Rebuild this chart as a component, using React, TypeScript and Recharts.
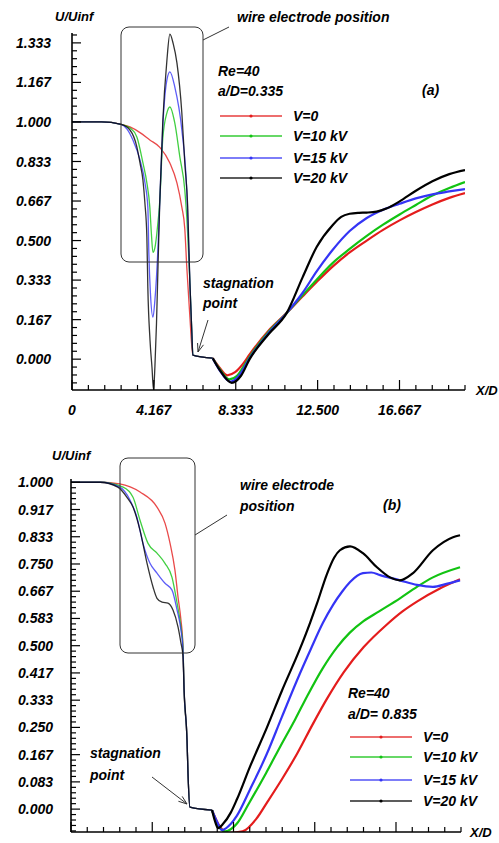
import React from 'react';
import { LineChart, Line, XAxis, YAxis } from 'recharts';

const FONT = '"Liberation Sans", Arial, Helvetica, sans-serif';

const SERIES_NAMES = ['V=0', 'V=10 kV', 'V=15 kV', 'V=20 kV'];
const SERIES_COLORS = ['#e41c1c', '#12c312', '#3434f5', '#000000'];

// ---------- chart (a): a/D = 0.335 ----------
const A_V0: [number, number][] = [
  [0, 1], [1.5, 1], [2.0, 0.998], [2.5, 0.99], [2.95, 0.979], [3.46, 0.955], [3.96, 0.924],
  [4.47, 0.893], [4.98, 0.827], [5.34, 0.743], [5.59, 0.641], [5.74, 0.55], [5.84, 0.39],
  [6.0, 0.177], [6.15, 0.017], [7.16, 0.004], [7.5, -0.035], [7.9, -0.068], [8.3, -0.055],
  [8.7, -0.02], [9.04, 0.02], [10.0, 0.12], [10.92, 0.194], [11.74, 0.265], [12.45, 0.325],
  [13.26, 0.39], [14.13, 0.45], [15.0, 0.5], [15.83, 0.545], [16.67, 0.585], [17.5, 0.62],
  [18.34, 0.652], [19.2, 0.68], [20, 0.7],
];
const A_V10: [number, number][] = [
  [0, 1], [1.5, 1], [2.5, 0.99], [2.95, 0.975], [3.3, 0.937], [3.61, 0.827], [3.81, 0.743],
  [3.96, 0.641], [4.04, 0.53], [4.12, 0.45], [4.22, 0.47], [4.32, 0.532], [4.47, 0.671],
  [4.62, 0.93], [4.83, 1.038], [4.98, 1.063], [5.23, 0.996], [5.49, 0.852], [5.74, 0.713],
  [5.84, 0.6], [6.0, 0.32], [6.1, 0.11], [6.15, 0.017], [7.16, 0.004], [7.5, -0.04],
  [8.0, -0.085], [8.4, -0.07], [8.7, -0.035], [9.04, 0.01], [10.0, 0.115], [10.92, 0.194],
  [11.74, 0.27], [12.45, 0.335], [13.26, 0.405], [14.13, 0.465], [15.0, 0.52], [15.83, 0.567],
  [16.67, 0.61], [17.5, 0.65], [18.34, 0.69], [19.2, 0.722], [20, 0.747],
];
const A_V15: [number, number][] = [
  [0, 1], [1.5, 1], [2.5, 0.99], [2.8, 0.97], [3.1, 0.924], [3.46, 0.84], [3.71, 0.745],
  [3.86, 0.64], [3.91, 0.45], [3.99, 0.28], [4.12, 0.177], [4.22, 0.249], [4.37, 0.46],
  [4.47, 0.671], [4.62, 0.98], [4.83, 1.177], [4.98, 1.211], [5.23, 1.148], [5.59, 0.966],
  [5.84, 0.713], [6.0, 0.32], [6.1, 0.11], [6.15, 0.017], [7.16, 0.004], [7.5, -0.045],
  [8.05, -0.095], [8.5, -0.07], [9.04, 0.005], [10.0, 0.11], [10.92, 0.194], [11.74, 0.28],
  [12.45, 0.37], [13.26, 0.46], [14.13, 0.54], [15.0, 0.595], [15.83, 0.63], [16.67, 0.655],
  [17.5, 0.678], [18.34, 0.695], [19.2, 0.707], [20, 0.717],
];
const A_V20: [number, number][] = [
  [0, 1], [1.5, 1], [2.5, 0.99], [2.95, 0.966], [3.3, 0.895], [3.46, 0.827], [3.61, 0.755],
  [3.71, 0.658], [3.81, 0.515], [3.86, 0.3], [3.97, 0.08], [4.07, -0.034], [4.15, -0.13],
  [4.22, -0.03], [4.3, 0.15], [4.38, 0.4], [4.47, 0.671], [4.62, 1.0], [4.83, 1.26],
  [4.98, 1.37], [5.15, 1.33], [5.34, 1.249], [5.59, 1.038], [5.74, 0.827], [5.89, 0.641],
  [6.0, 0.32], [6.1, 0.11], [6.15, 0.017], [7.16, 0.004], [7.52, -0.046], [8.13, -0.1],
  [8.6, -0.07], [9.04, 0.0], [10.0, 0.105], [10.92, 0.194], [11.74, 0.346], [12.45, 0.473],
  [13.26, 0.565], [13.7, 0.6], [14.13, 0.613], [14.6, 0.617], [15.0, 0.618], [15.5, 0.622],
  [16.0, 0.635], [16.67, 0.665], [17.5, 0.71], [18.34, 0.75], [19.2, 0.78], [20, 0.797],
];

// ---------- chart (b): a/D = 0.835 ----------
const B_V0: [number, number][] = [
  [0, 1], [1.5, 1], [2.5, 0.995], [3.54, 0.97], [4.41, 0.924], [4.82, 0.875], [5.08, 0.813],
  [5.33, 0.731], [5.49, 0.648], [5.64, 0.578], [5.74, 0.5], [5.8, 0.364], [5.95, 0.211],
  [6.0, 0.11], [6.1, 0.006], [7.23, -0.003], [7.6, -0.05], [8.0, -0.073], [8.8, -0.068],
  [9.5, -0.03], [10.05, 0.02], [10.8, 0.09], [11.6, 0.17], [12.4, 0.26], [13.1, 0.335],
  [14.0, 0.42], [15.0, 0.495], [16.2, 0.565], [17.0, 0.605], [17.74, 0.635], [18.92, 0.675],
  [19.95, 0.703],
];
const B_V10: [number, number][] = [
  [0, 1], [1.5, 1], [2.67, 0.985], [3.18, 0.954], [3.54, 0.884], [3.95, 0.813], [4.41, 0.783],
  [4.82, 0.752], [5.18, 0.709], [5.44, 0.63], [5.64, 0.557], [5.74, 0.5], [5.8, 0.364],
  [5.95, 0.211], [6.0, 0.11], [6.1, 0.006], [7.23, -0.003], [7.55, -0.05], [7.9, -0.068],
  [8.5, -0.045], [9.1, 0.015], [10.0, 0.11], [10.72, 0.19], [11.5, 0.275], [12.15, 0.35],
  [12.9, 0.43], [13.64, 0.495], [14.3, 0.54], [15.0, 0.575], [15.8, 0.605], [16.87, 0.645],
  [17.74, 0.68], [18.56, 0.709], [19.95, 0.74],
];
const B_V15: [number, number][] = [
  [0, 1], [1.5, 1], [2.5, 0.985], [3.03, 0.945], [3.38, 0.893], [3.69, 0.813], [4.05, 0.752],
  [4.41, 0.722], [4.82, 0.691], [5.18, 0.67], [5.44, 0.609], [5.64, 0.547], [5.74, 0.49],
  [5.8, 0.364], [5.95, 0.211], [6.0, 0.11], [6.1, 0.006], [7.23, -0.003], [7.5, -0.04],
  [7.74, -0.064], [8.2, -0.045], [8.51, -0.02], [9.18, 0.06], [10.05, 0.17], [10.8, 0.28],
  [11.74, 0.415], [12.3, 0.49], [12.92, 0.57], [13.44, 0.625], [13.9, 0.665], [14.31, 0.695],
  [14.97, 0.722], [15.4, 0.724], [15.85, 0.716], [16.87, 0.7], [17.74, 0.686], [18.56, 0.68],
  [19.3, 0.69], [19.95, 0.7],
];
const B_V20: [number, number][] = [
  [0, 1], [1.5, 1], [2.4, 0.985], [2.87, 0.954], [3.18, 0.924], [3.54, 0.853], [3.9, 0.752],
  [4.21, 0.679], [4.41, 0.645], [4.67, 0.633], [4.97, 0.63], [5.23, 0.609], [5.49, 0.557],
  [5.64, 0.508], [5.74, 0.47], [5.8, 0.364], [5.95, 0.211], [6.0, 0.11], [6.1, 0.006],
  [7.23, -0.003], [7.4, -0.04], [7.54, -0.058], [7.8, -0.045], [8.2, -0.01], [8.51, 0.03],
  [9.18, 0.13], [10.05, 0.25], [10.8, 0.36], [11.74, 0.49], [12.26, 0.57], [12.62, 0.63],
  [13.13, 0.72], [13.5, 0.77], [13.79, 0.792], [14.31, 0.804], [14.97, 0.783], [15.69, 0.74],
  [16.36, 0.709], [16.87, 0.7], [17.54, 0.722], [18.56, 0.792], [19.59, 0.832], [19.95, 0.838],
];

// end of the thin flat segment after the stagnation point (thin markers before, thick line after)
const A_SPLIT_X = 7.16;
const B_SPLIT_X = 7.23;

// ---------- axes ----------
const X_MAJOR = [0, 25 / 6, 50 / 6, 12.5, 100 / 6];
const X_LABELS_A = ['0', '4.167', '8.333', '12.500', '16.667'];
const X_LABELS_B = ['', '', '', '', ''];
const A_Y_MAJOR = [0, 1 / 6, 2 / 6, 3 / 6, 4 / 6, 5 / 6, 1, 7 / 6, 8 / 6];
const A_Y_LABELS = ['0.000', '0.167', '0.333', '0.500', '0.667', '0.833', '1.000', '1.167', '1.333'];
const B_Y_MAJOR = [0, 1 / 12, 2 / 12, 3 / 12, 4 / 12, 5 / 12, 6 / 12, 7 / 12, 8 / 12, 9 / 12, 10 / 12, 11 / 12, 1];
const B_Y_LABELS = ['0.000', '0.083', '0.167', '0.250', '0.333', '0.417', '0.500', '0.583', '0.667', '0.750', '0.833', '0.917', '1.000'];

const A_Y_DOMAIN: [number, number] = [-0.13, 1.375];
const B_Y_DOMAIN: [number, number] = [-0.07, 1.01];
const X_DOMAIN: [number, number] = [0, 20];

function tickList(step: number, lo: number, hi: number) {
  const out: number[] = [];
  const k0 = Math.ceil(lo / step - 1e-6);
  const k1 = Math.floor(hi / step + 1e-6);
  for (let k = k0; k <= k1; k++) out.push(+(k * step).toFixed(6));
  return out;
}

const toPts = (arr: [number, number][]) => arr.map(([x, y]) => ({ x, y }));

const textStyle: React.CSSProperties = {
  fontFamily: FONT,
  fontStyle: 'italic',
  fontWeight: 'bold',
  fontSize: 14,
  fill: '#000',
};

const YTick = (props: any) => {
  const { x, y, payload, majors, labels, dx } = props;
  const v = payload.value;
  const idx = majors.findIndex((m: number) => Math.abs(m - v) < 1e-4);
  const major = idx >= 0;
  return (
    <g>
      <line x1={x} y1={y} x2={x + (major ? 9 : 5)} y2={y} stroke="#000" strokeWidth={1.2} />
      {major && labels[idx] ? (
        <text x={x - dx} y={y} dy="0.36em" textAnchor="end" style={textStyle}>
          {labels[idx]}
        </text>
      ) : null}
    </g>
  );
};

const XTick = (props: any) => {
  const { x, y, payload, majors, labels } = props;
  const v = payload.value;
  const idx = majors.findIndex((m: number) => Math.abs(m - v) < 1e-4);
  const major = idx >= 0;
  return (
    <g>
      <line x1={x} y1={y} x2={x} y2={y - (major ? 10 : 5)} stroke="#000" strokeWidth={1.2} />
      {major && labels[idx] ? (
        <text x={x} y={y + 25} textAnchor="middle" style={textStyle}>
          {labels[idx]}
        </text>
      ) : null}
    </g>
  );
};

function Panel(props: {
  series: [number, number][][];
  splitX: number;
  yDomain: [number, number];
  yMajor: number[];
  yLabels: string[];
  yMinorStep: number;
  xLabels: string[];
  width: number;
  height: number;
  margin: { top: number; right: number; bottom: number; left: number };
  yLabelDx: number;
}) {
  const { series, splitX, yDomain, yMajor, yLabels, yMinorStep, xLabels, width, height, margin, yLabelDx } = props;
  const yTicks = tickList(yMinorStep, yDomain[0], yDomain[1]);
  const xTicks = tickList(5 / 6, X_DOMAIN[0], X_DOMAIN[1]);
  return (
    <LineChart width={width} height={height} margin={margin}>
      <XAxis
        type="number"
        dataKey="x"
        domain={X_DOMAIN}
        allowDataOverflow
        ticks={xTicks}
        interval={0}
        height={1}
        tickSize={0}
        tickMargin={0}
        axisLine={{ stroke: '#000', strokeWidth: 1.6 }}
        tickLine={false}
        tick={(p: any) => <XTick {...p} majors={X_MAJOR} labels={xLabels} />}
      />
      <YAxis
        type="number"
        domain={yDomain}
        allowDataOverflow
        ticks={yTicks}
        interval={0}
        width={1}
        tickSize={0}
        tickMargin={0}
        axisLine={{ stroke: '#000', strokeWidth: 1.6 }}
        tickLine={false}
        tick={(p: any) => <YTick {...p} majors={yMajor} labels={yLabels} dx={yLabelDx} />}
      />
      {series.map((s, i) => (
        <Line
          key={'u' + i}
          data={toPts(s.filter(([x]) => x <= splitX))}
          dataKey="y"
          type="monotone"
          stroke={SERIES_COLORS[i]}
          strokeOpacity={0.8}
          strokeWidth={1.3}
          dot={false}
          isAnimationActive={false}
        />
      ))}
      {series.map((s, i) => (
        <Line
          key={'d' + i}
          data={toPts(s.filter(([x]) => x >= splitX))}
          dataKey="y"
          type="monotone"
          stroke={SERIES_COLORS[i]}
          strokeWidth={2.2}
          dot={false}
          isAnimationActive={false}
        />
      ))}
    </LineChart>
  );
}

function arrowHead(x1: number, y1: number, x2: number, y2: number, len = 9, ang = 0.35) {
  const a = Math.atan2(y2 - y1, x2 - x1);
  const p1 = [x2 - len * Math.cos(a - ang), y2 - len * Math.sin(a - ang)];
  const p2 = [x2 - len * Math.cos(a + ang), y2 - len * Math.sin(a + ang)];
  return `M${p1[0]},${p1[1]} L${x2},${y2} L${p2[0]},${p2[1]}`;
}

function Legend({ x, y0, gaps }: { x: number; y0: number; gaps: number[] }) {
  let y = y0;
  return (
    <g>
      {SERIES_NAMES.map((n, i) => {
        if (i > 0) y += gaps[i - 1];
        return (
          <g key={n}>
            <line x1={x} y1={y} x2={x + 62} y2={y} stroke={SERIES_COLORS[i]} strokeWidth={1.5} opacity={0.85} />
            <circle cx={x + 31} cy={y} r={1.6} fill={SERIES_COLORS[i]} />
            <text x={x + 73} y={y} dy="0.36em" style={textStyle}>{n}</text>
          </g>
        );
      })}
    </g>
  );
}

export default function App() {
  return (
    <div style={{ position: 'absolute', left: 0, top: 0, width: 499, height: 843, background: '#fff' }}>
      <div style={{ position: 'absolute', left: 0, top: 0 }}>
        <Panel
          series={[A_V0, A_V10, A_V15, A_V20]}
          splitX={A_SPLIT_X}
          yDomain={A_Y_DOMAIN}
          yMajor={A_Y_MAJOR}
          yLabels={A_Y_LABELS}
          yMinorStep={1 / 30}
          xLabels={X_LABELS_A}
          width={499}
          height={420}
          margin={{ top: 33, right: 34, bottom: 29, left: 71 }}
          yLabelDx={21}
        />
      </div>
      <div style={{ position: 'absolute', left: 0, top: 420 }}>
        <Panel
          series={[B_V0, B_V10, B_V15, B_V20]}
          splitX={B_SPLIT_X}
          yDomain={B_Y_DOMAIN}
          yMajor={B_Y_MAJOR}
          yLabels={B_Y_LABELS}
          yMinorStep={1 / 60}
          xLabels={X_LABELS_B}
          width={499}
          height={423}
          margin={{ top: 59, right: 38, bottom: 10, left: 70 }}
          yLabelDx={18}
        />
      </div>
      <svg width={499} height={843} style={{ position: 'absolute', left: 0, top: 0, pointerEvents: 'none' }}>
        {/* panel (a) annotations */}
        <text x={55} y={21} style={{ ...textStyle, fontSize: 13 }}>U/Uinf</text>
        <text x={476} y={395} style={{ ...textStyle, fontSize: 13 }}>X/D</text>
        <rect x={121} y={27} width={82} height={235} rx={8} ry={8} fill="none" stroke="#333" strokeWidth={1} />
        <line x1={203} y1={40} x2={229} y2={27} stroke="#333" strokeWidth={1} />
        <text x={237} y={22} style={textStyle}>wire electrode position</text>
        <text x={218} y={76} style={textStyle}>Re=40</text>
        <text x={218} y={96} style={textStyle}>a/D=0.335</text>
        <text x={422} y={95} style={textStyle}>(a)</text>
        <Legend x={220} y0={116} gaps={[20, 22, 20]} />
        <text x={203} y={288} style={textStyle}>stagnation</text>
        <text x={203} y={308} style={textStyle}>point</text>
        <line x1={208} y1={320} x2={198} y2={352} stroke="#333" strokeWidth={1} />
        <path d={arrowHead(208, 320, 198, 352)} fill="none" stroke="#333" strokeWidth={1} />

        {/* panel (b) annotations */}
        <text x={52} y={460} style={{ ...textStyle, fontSize: 13 }}>U/Uinf</text>
        <text x={470} y={837} style={{ ...textStyle, fontSize: 13 }}>X/D</text>
        <rect x={120} y={458} width={75} height={195} rx={8} ry={8} fill="none" stroke="#333" strokeWidth={1} />
        <line x1={195} y1={535} x2={227} y2={515} stroke="#333" strokeWidth={1} />
        <text x={240} y={490} style={textStyle}>wire electrode</text>
        <text x={240} y={511} style={textStyle}>position</text>
        <text x={383} y={510} style={textStyle}>(b)</text>
        <text x={348} y={698} style={textStyle}>Re=40</text>
        <text x={348} y={719} style={textStyle}>a/D= 0.835</text>
        <Legend x={350} y0={737} gaps={[20, 23, 21]} />
        <text x={90} y={758} style={textStyle}>stagnation</text>
        <text x={90} y={780} style={textStyle}>point</text>
        <line x1={152} y1={777} x2={187} y2={804} stroke="#333" strokeWidth={1} />
        <path d={arrowHead(152, 777, 187, 804)} fill="none" stroke="#333" strokeWidth={1} />
      </svg>
    </div>
  );
}
